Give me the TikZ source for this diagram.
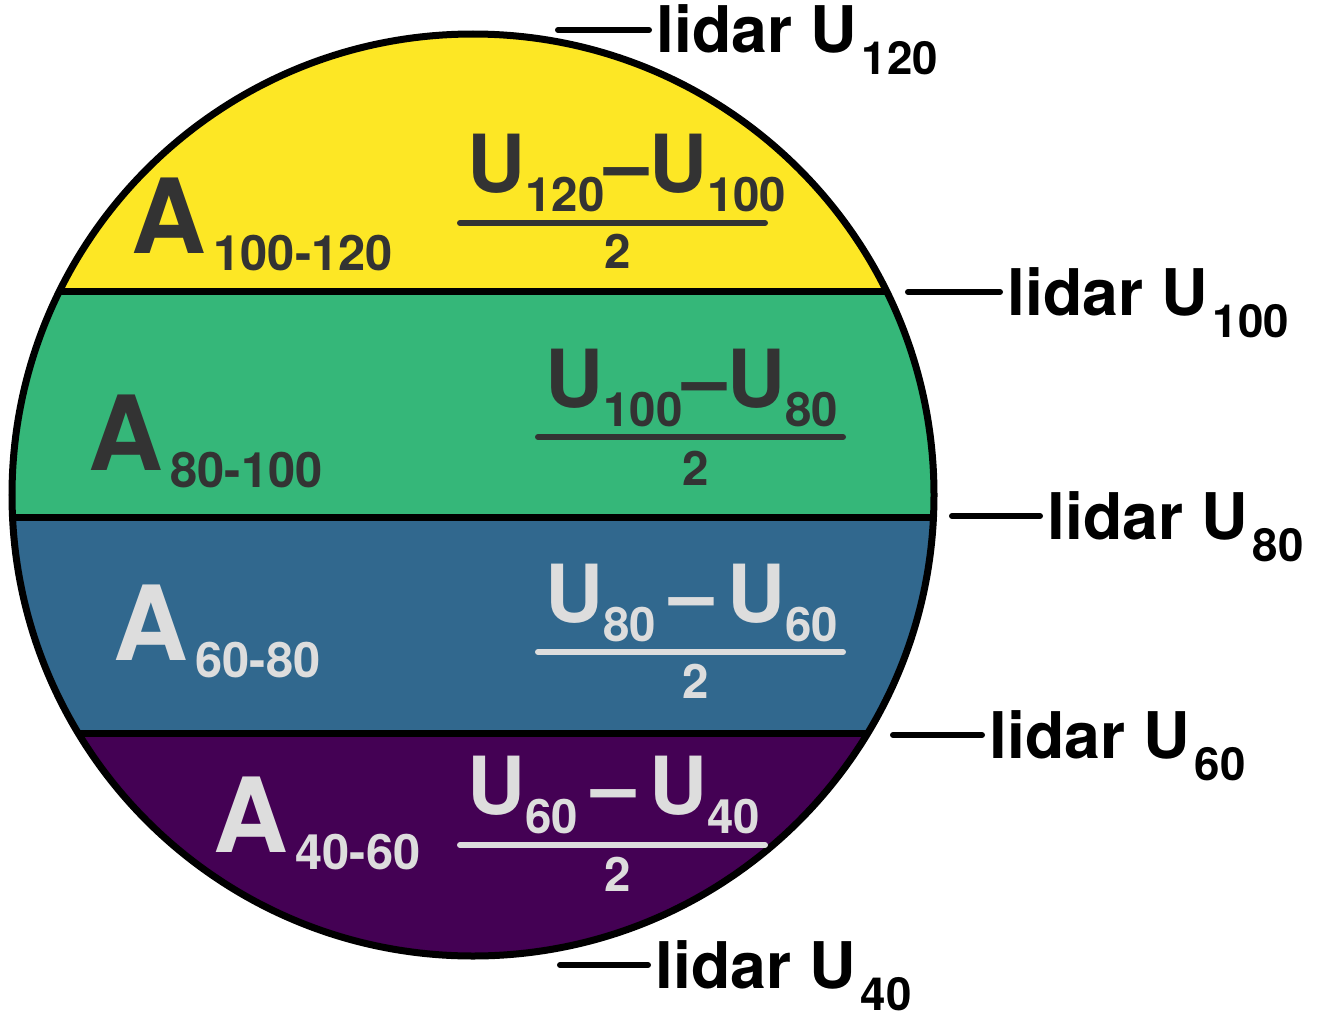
\documentclass[tikz,border=0pt]{standalone}
\usepackage{fontspec}
\setmainfont{TeX Gyre Heros}
\usetikzlibrary{calc}

\definecolor{vyellow}{HTML}{FDE725}
\definecolor{vgreen}{HTML}{35B779}
\definecolor{vblue}{HTML}{31688E}
\definecolor{vpurple}{HTML}{440154}
\definecolor{darktxt}{HTML}{333333}
\definecolor{lighttxt}{HTML}{DDDDDD}

% lowered small digits
\newcommand{\sublow}[2]{\raisebox{-#1}{\fontsize{13.5}{16}\selectfont #2}}
\newcommand{\subA}[1]{\kern0.07cm\raisebox{-0.17cm}{\fontsize{13.9}{16}\selectfont #1}}

\tikzset{
  lidar/.style={font=\fontsize{18.3}{21}\selectfont\bfseries, anchor=base west, inner sep=0pt},
  bigA/.style={font=\fontsize{29.5}{34}\selectfont\bfseries, anchor=base west, inner sep=0pt},
  numer/.style={font=\fontsize{22.8}{26}\selectfont\bfseries, anchor=base west, inner sep=0pt},
  denom/.style={font=\fontsize{13.5}{16}\selectfont\bfseries, anchor=base, inner sep=0pt},
  fracbar/.style={line width=0.06cm, line cap=round},
  tick/.style={line width=0.06cm, line cap=round},
}

\begin{document}
\begin{tikzpicture}[scale=1]
\useasboundingbox (0,0) rectangle (13.22,10.15);

% Bands inside the circle
\begin{scope}
\clip (4.73,5.20) circle (4.61);
\fill[vyellow] (0,7.24) rectangle (10,10.15);
\fill[vgreen] (0,4.98) rectangle (10,7.24);
\fill[vblue] (0,2.82) rectangle (10,4.98);
\fill[vpurple] (0,0) rectangle (10,2.82);
\foreach \y in {7.24,4.98,2.82}
{
\draw[line width=0.07cm] (0,\y)--(10,\y);
}
\end{scope}

% Outline
\draw[line width=0.07cm] (4.73,5.20) circle (4.61);

% Yellow band
\node[bigA, text=darktxt] (a1) at (1.31,7.62){A\subA{100-120}};
\node[numer, text=darktxt] (n1) at (4.67,8.23){U\sublow{0.19cm}{120}--U\sublow{0.19cm}{100}};
\draw[fracbar, darktxt] (4.60,7.92)--(7.65,7.92);
\node[denom, text=darktxt] (d1) at (6.175,7.47){2};

% Green band
\node[bigA, text=darktxt] (a2) at (0.88,5.45){A\subA{80-100}};
\node[numer, text=darktxt] (n2) at (5.45,6.08){U\sublow{0.19cm}{100}--U\sublow{0.19cm}{80}};
\draw[fracbar, darktxt] (5.38,5.78)--(8.43,5.78);
\node[denom, text=darktxt] (d2) at (6.955,5.30){2};

% Blue band
\node[bigA, text=lighttxt] (a3) at (1.13,3.55){A\subA{60-80}};
\node[numer, text=lighttxt] (n3) at (5.45,3.93){U\sublow{0.19cm}{80}\,--\,U\sublow{0.19cm}{60}};
\draw[fracbar, lighttxt] (5.38,3.63)--(8.43,3.63);
\node[denom, text=lighttxt] (d3) at (6.955,3.17){2};

% Purple band
\node[bigA, text=lighttxt] (a4) at (2.13,1.63){A\subA{40-60}};
\node[numer, text=lighttxt] (n4) at (4.67,2.01){U\sublow{0.19cm}{60}\,--\,U\sublow{0.19cm}{40}};
\draw[fracbar, lighttxt] (4.60,1.70)--(7.65,1.70);
\node[denom, text=lighttxt] (d4) at (6.175,1.24){2};

% Lidar heights
\foreach \h/\tx/\ty/\lx in {120/5.58/9.85/6.56, 100/9.08/7.23/10.07, 80/9.52/4.99/10.47, 60/8.93/2.80/9.89, 40/5.60/0.50/6.55}
{
\coordinate (t\h) at (\tx,\ty);
\node[lidar] (l\h) at (\lx,\ty-0.23){lidar U\kern0.05cm\raisebox{-0.22cm}{\fontsize{13}{15}\selectfont\h}};
\draw[tick] (t\h)--($(t\h -| l\h.west)+(-0.07,0)$);
}

\end{tikzpicture}
\end{document}
